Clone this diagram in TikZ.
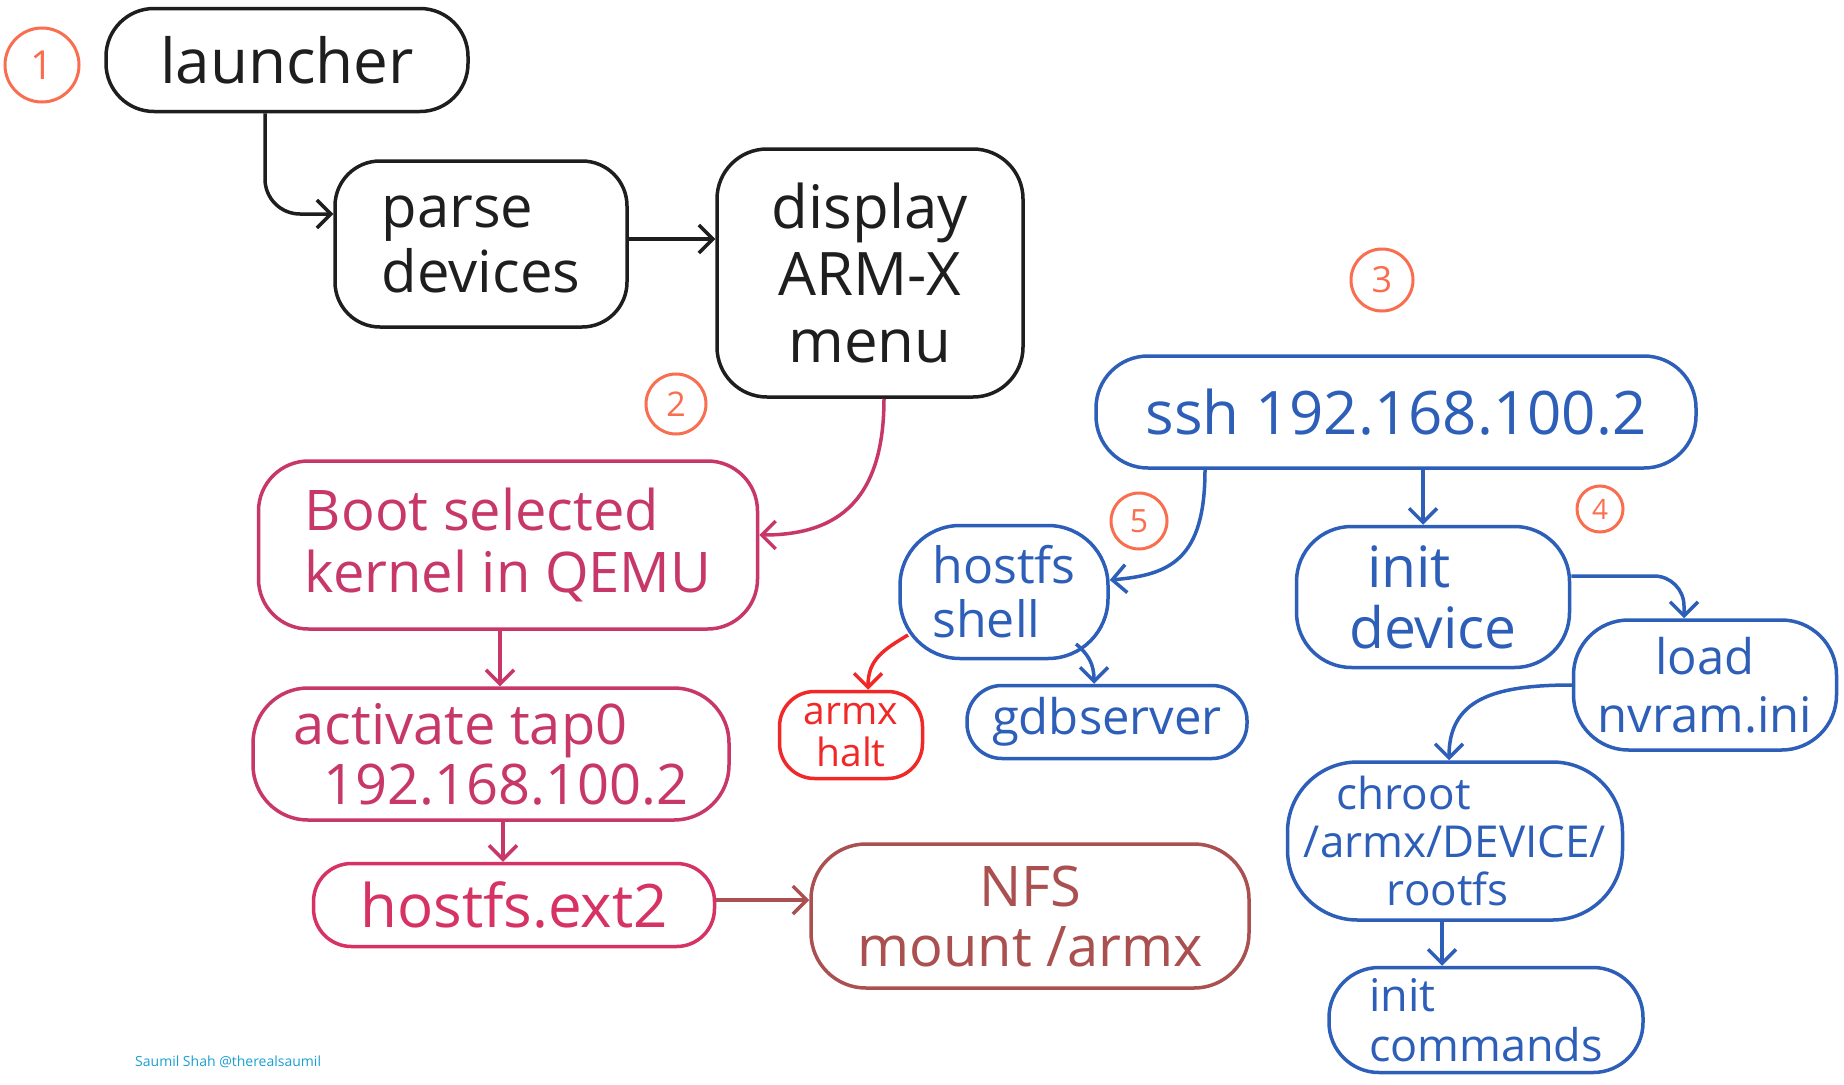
\documentclass[tikz,border=0pt]{standalone}
\usepackage{fontspec}
\setmainfont{Open Sans}
\usetikzlibrary{arrows.meta}
\definecolor{ink}{RGB}{30,30,30}
\definecolor{crim}{RGB}{200,55,105}
\definecolor{crimb}{RGB}{215,50,100}
\definecolor{nfsc}{RGB}{170,80,80}
\definecolor{haltc}{RGB}{240,40,40}
\definecolor{blu}{RGB}{45,95,185}
\definecolor{numc}{RGB}{250,110,80}
\definecolor{wm}{RGB}{25,160,210}
\newcommand\fsz[2]{\fontsize{#1}{#2}\selectfont}
\tikzset{
  box/.style={draw, line width=3.5pt, rounded corners=#1, inner sep=0pt, align=center},
  box/.default=45pt,
  arr/.style={line width=3.5pt, -{Straight Barb[length=14pt,width=28pt]}},
  num/.style={draw=numc, text=numc, circle, line width=3pt, inner sep=0pt, minimum size=#1},
}
\begin{document}
\begin{tikzpicture}[x=1pt,y=-1pt]
\useasboundingbox (0,0) rectangle (1844,1084);
\fill[white] (0,0) rectangle (1844,1084);

% black group
\node[box=48pt, color=ink, minimum width=362pt, minimum height=103pt, font=\fsz{62}{68}] (launcher) at (287,60) {launcher};
\node[box=45pt, color=ink, minimum width=292pt, minimum height=166pt, font=\fsz{58}{65}, align=left] (parse) at (481,244) {parse\\devices};
\node[box=50pt, color=ink, minimum width=306pt, minimum height=248pt, font=\fsz{60}{67}] (display) at (870,273) {display\\ARM-X\\menu};

% crimson group
\node[box=50pt, color=crim, minimum width=499pt, minimum height=168pt, font=\fsz{56}{62}, align=left] (boot) at (508,545) {Boot selected\\kernel in QEMU};
\node[box=55pt, color=crim, minimum width=476pt, minimum height=132pt, font=\fsz{56}{60}, align=left] (activate) at (491,754) {activate tap0\\\hspace*{30pt}192.168.100.2};
\node[box=38pt, color=crimb, minimum width=401pt, minimum height=83pt, font=\fsz{60}{66}] (ext) at (514,905) {hostfs.ext2};
\node[box=55pt, color=nfsc, minimum width=438pt, minimum height=144pt, font=\fsz{56}{60}] (nfs) at (1030,916) {NFS\\mount /armx};

% blue group
\node[box=52pt, color=blu, minimum width=600pt, minimum height=112pt, font=\fsz{60}{66}] (ssh) at (1396,412) {ssh 192.168.100.2};
\node[box=60pt, color=blu, minimum width=208pt, minimum height=133pt, font=\fsz{50}{54}, align=left] (shell) at (1004,592) {hostfs\\shell};
\node[box=55pt, color=blu, minimum width=273pt, minimum height=141pt, font=\fsz{57}{61}, align=left] (initdev) at (1433,597) {\hspace*{18pt}init\\device};
\node[box=55pt, color=blu, minimum width=263pt, minimum height=130pt, font=\fsz{49}{58}] (load) at (1705,685) {load\\nvram.ini};
\node[box=70pt, color=blu, minimum width=335pt, minimum height=158pt, font=\fsz{44}{48}, align=left] (chroot) at (1455,841) {\hspace*{33pt}chroot\\/armx/DEVICE/\\\hspace*{83pt}rootfs};
\node[box=50pt, color=blu, minimum width=314pt, minimum height=105pt, font=\fsz{45}{50}, align=left] (initcmd) at (1486,1020) {init\\commands};
\node[box=35pt, color=haltc, minimum width=143pt, minimum height=87pt, font=\fsz{39}{42}] (halt) at (851,735) {armx\\halt};
\node[box=35pt, color=blu, minimum width=280pt, minimum height=73pt, font=\fsz{49}{54}] (gdb) at (1107,722) {gdbserver};

% numbers
\node[num=74pt, font=\fsz{40}{40}] (n1) at (42,65) {1};
\node[num=60pt, font=\fsz{34}{34}] (n2) at (676,404) {2};
\node[num=62pt, font=\fsz{36}{36}] (n3) at (1382,280) {3};
\node[num=46pt, font=\fsz{28}{28}] (n4) at (1600,509) {4};
\node[num=56pt, font=\fsz{32}{32}] (n5) at (1139,521) {5};

% connectors
\draw[arr, ink, rounded corners=35pt] ([xshift=-22pt]launcher.south) |- ([yshift=30pt]parse.west);
\draw[arr, ink] ([yshift=5pt]parse.east) -- ([yshift=5pt]parse.east -| display.west);
\draw[arr, crim] ([xshift=14pt]display.south) .. controls +(0,110) and +(70,0) .. ([yshift=10pt]boot.east);
\draw[arr, crim] ([xshift=-8pt]boot.south) -- ([xshift=-8pt]boot.south |- activate.north);
\draw[arr, crim] ([xshift=12pt]activate.south) -- ([xshift=12pt]activate.south |- ext.north);
\draw[arr, nfsc] ([yshift=5pt]ext.east) -- ([yshift=5pt]ext.east -| nfs.west);

\draw[arr, blu] ([xshift=-191pt]ssh.south) .. controls +(0,90) and +(60,-5) .. ([yshift=12pt]shell.east);
\draw[arr, blu] ([xshift=27pt]ssh.south) -- ([xshift=27pt]ssh.south |- initdev.north);
\draw[arr, blu, rounded corners=30pt] ([yshift=21pt]initdev.east) -| ([xshift=-21pt]load.north);
\draw[arr, blu] (load.west) .. controls +(-80,0) and +(0,-60) .. ([xshift=-6pt]chroot.north);
\draw[arr, blu] ([xshift=-13pt]chroot.south) -- ([xshift=-13pt]chroot.south |- initcmd.north);
\draw[arr, haltc] ([shift={(-96pt,-43pt)}]shell.center) .. controls +(-25,15) and +(0,-30) .. ([xshift=17pt]halt.north);
\draw[arr, blu] ([shift={(72pt,-52pt)}]shell.center) .. controls +(12,10) and +(0,-20) .. ([xshift=-13pt]gdb.north);

\node[anchor=west, text=wm, font=\fsz{14}{16}, inner sep=0pt] (credit) at (135,1062) {Saumil Shah @therealsaumil};
\end{tikzpicture}
\end{document}
